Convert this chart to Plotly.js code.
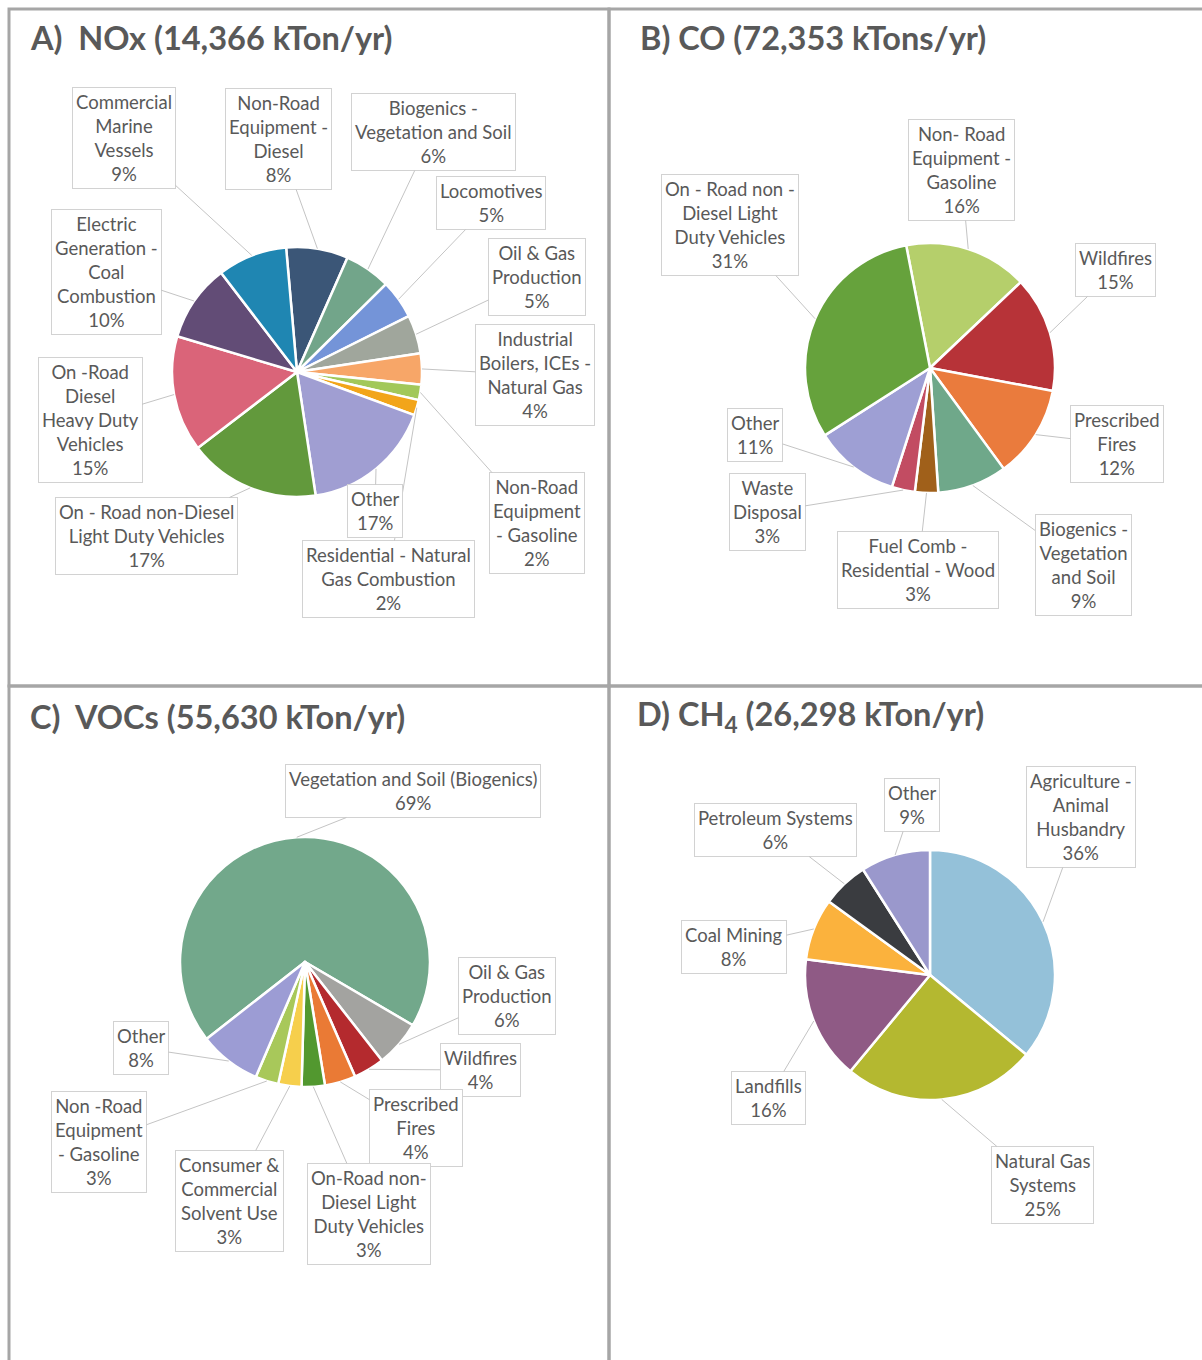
<!DOCTYPE html>
<html>
<head>
<meta charset="utf-8">
<script src="https://cdn.plot.ly/plotly-3.0.1.min.js"></script>
<style>html,body{margin:0;padding:0;background:#fff;}#chart{width:1202px;height:1360px;}</style>
</head>
<body>
<div id="chart"></div>
<script>
// ---------------- DATA ----------------
const noxLabels = ["Non-Road<br>Equipment -<br>Diesel", "Biogenics -<br>Vegetation and Soil", "Locomotives", "Oil & Gas<br>Production", "Industrial<br>Boilers, ICEs -<br>Natural Gas", "Non-Road<br>Equipment<br>- Gasoline", "Residential - Natural<br>Gas Combustion", "Other", "On - Road non-Diesel<br>Light Duty Vehicles", "On -Road<br>Diesel<br>Heavy Duty<br>Vehicles", "Electric<br>Generation -<br>Coal<br>Combustion", "Commercial<br>Marine<br>Vessels"];
const noxValues = [8, 6, 5, 5, 4, 2, 2, 17, 17, 15, 10, 9];

const coLabels = ["Non- Road<br>Equipment -<br>Gasoline", "Wildfires", "Prescribed<br>Fires", "Biogenics -<br>Vegetation<br>and Soil", "Fuel Comb -<br>Residential - Wood", "Waste<br>Disposal", "Other", "On - Road non -<br>Diesel Light<br>Duty Vehicles"];
const coValues = [16, 15, 12, 9, 3, 3, 11, 31];

const vocLabels = ["Vegetation and Soil (Biogenics)", "Oil & Gas<br>Production", "Wildfires", "Prescribed<br>Fires", "On-Road non-<br>Diesel Light<br>Duty Vehicles", "Consumer &<br>Commercial<br>Solvent Use", "Non -Road<br>Equipment<br>- Gasoline", "Other"];
const vocValues = [69, 6, 4, 4, 3, 3, 3, 8];

const ch4Labels = ["Agriculture -<br>Animal<br>Husbandry", "Natural Gas<br>Systems", "Landfills", "Coal Mining", "Petroleum Systems", "Other"];
const ch4Values = [36, 25, 16, 8, 6, 9];

const panelTitles = ["A)&nbsp; NOx (14,366 kTon/yr)", "B) CO (72,353 kTons/yr)", "C)&nbsp; VOCs (55,630 kTon/yr)", "D) CH<sub>4</sub> (26,298 kTon/yr)"];

// ---------------- STYLE / LAYOUT ----------------
const noxColors = ["#3b5677", "#72a58a", "#7494d8", "#a0a69c", "#f7a668", "#a2c85a", "#f2a51a", "#a09ed2", "#62993c", "#da6479", "#624c76", "#1f86b2"];
const coColors = ["#b5cf6b", "#b73338", "#ea7b3d", "#6fa88a", "#a0601a", "#c24c62", "#9e9fd4", "#66a23c"];
const vocColors = ["#72a88b", "#a3a3a0", "#b42a2e", "#ea7a35", "#52982f", "#f6cf4c", "#a8c85a", "#9c9cd4"];
const ch4Colors = ["#94c1d9", "#b4b830", "#8f5a85", "#fbb23d", "#3a3c40", "#9a98cc"];

const W = 1202, H = 1360;
const pies = [
  {labels: noxLabels, values: noxValues, colors: noxColors, cx: 297, cy: 372, r: 125, rot: -5,
   boxes: [[278,139],[433,132],[491,203],[537,277],[535,375],[537,523],[388,579],[375,511],[146,536],[90,420],[106,272],[124,138]]},
  {labels: coLabels, values: coValues, colors: coColors, cx: 930, cy: 368, r: 125, rot: -11,
   boxes: [[961,170],[1115,270],[1117,444],[1083,565],[918,570],[767,512],[755,435],[730,225]]},
  {labels: vocLabels, values: vocValues, colors: vocColors, cx: 305, cy: 962, r: 125, rot: -128,
   boxes: [[413,791],[507,996],[480,1070],[416,1128],[369,1214],[229,1201],[99,1142],[141,1048]]},
  {labels: ch4Labels, values: ch4Values, colors: ch4Colors, cx: 930, cy: 975, r: 125, rot: 0,
   boxes: [[1081,817],[1042,1185],[768,1098],[734,947],[775,830],[912,805]]}
];
const titlePos = [[28,37],[638,37],[28,716],[635,716]];

const txtColor = "#595959";
const fontFam = "Lato, 'Open Sans', 'Liberation Sans', sans-serif";

const traces = [];
const annotations = [];
pies.forEach(function(p, k) {
  traces.push({
    type: "pie",
    values: p.values,
    labels: p.labels.map(function(l, i){ return "s" + k + "_" + i; }),
    sort: false,
    direction: "clockwise",
    rotation: p.rot,
    textinfo: "none",
    hoverinfo: "skip",
    showlegend: false,
    marker: {colors: p.colors, line: {color: "#ffffff", width: 2.5}},
    domain: {x: [(p.cx - p.r) / W, (p.cx + p.r) / W], y: [1 - (p.cy + p.r) / H, 1 - (p.cy - p.r) / H]}
  });
  const total = p.values.reduce(function(a, b){ return a + b; }, 0);
  let cum = 0;
  p.values.forEach(function(v, i) {
    const mid = (p.rot + (cum + v / 2) / total * 360) * Math.PI / 180;
    cum += v;
    const tx = p.cx + p.r * Math.sin(mid);
    const ty = p.cy - p.r * Math.cos(mid);
    const b = p.boxes[i];
    annotations.push({
      xref: "paper", yref: "paper", x: tx / W, y: 1 - ty / H,
      ax: b[0] - tx, ay: b[1] - ty,
      text: p.labels[i] + "<br>" + v + "%",
      showarrow: true, arrowhead: 0, arrowwidth: 1, arrowcolor: "#c4c4c4", standoff: 0,
      bordercolor: "#d2d2d2", borderwidth: 1, borderpad: 3, bgcolor: "#ffffff",
      align: "center",
      font: {family: fontFam, size: 18.5, color: txtColor}
    });
  });
});
panelTitles.forEach(function(t, i) {
  annotations.push({
    xref: "paper", yref: "paper", x: titlePos[i][0] / W, y: 1 - titlePos[i][1] / H,
    xanchor: "left", yanchor: "middle", showarrow: false, text: t,
    font: {family: fontFam, size: 32.5, color: txtColor, weight: "bold"}
  });
});

const shapes = [[9,9,609,686],[609,9,1204,686],[9,686,609,1364],[609,686,1204,1364]].map(function(s){
  return {type: "rect", xref: "paper", yref: "paper", x0: s[0]/W, x1: s[2]/W, y0: 1 - s[3]/H, y1: 1 - s[1]/H,
          line: {color: "#a6a6a6", width: 3}, fillcolor: "rgba(0,0,0,0)", layer: "below"};
});

const layout = {
  width: W, height: H,
  margin: {l: 0, r: 0, t: 0, b: 0},
  paper_bgcolor: "#ffffff", plot_bgcolor: "#ffffff",
  showlegend: false,
  annotations: annotations,
  shapes: shapes
};
Plotly.newPlot("chart", traces, layout, {displayModeBar: false, staticPlot: true});
</script>
</body>
</html>
